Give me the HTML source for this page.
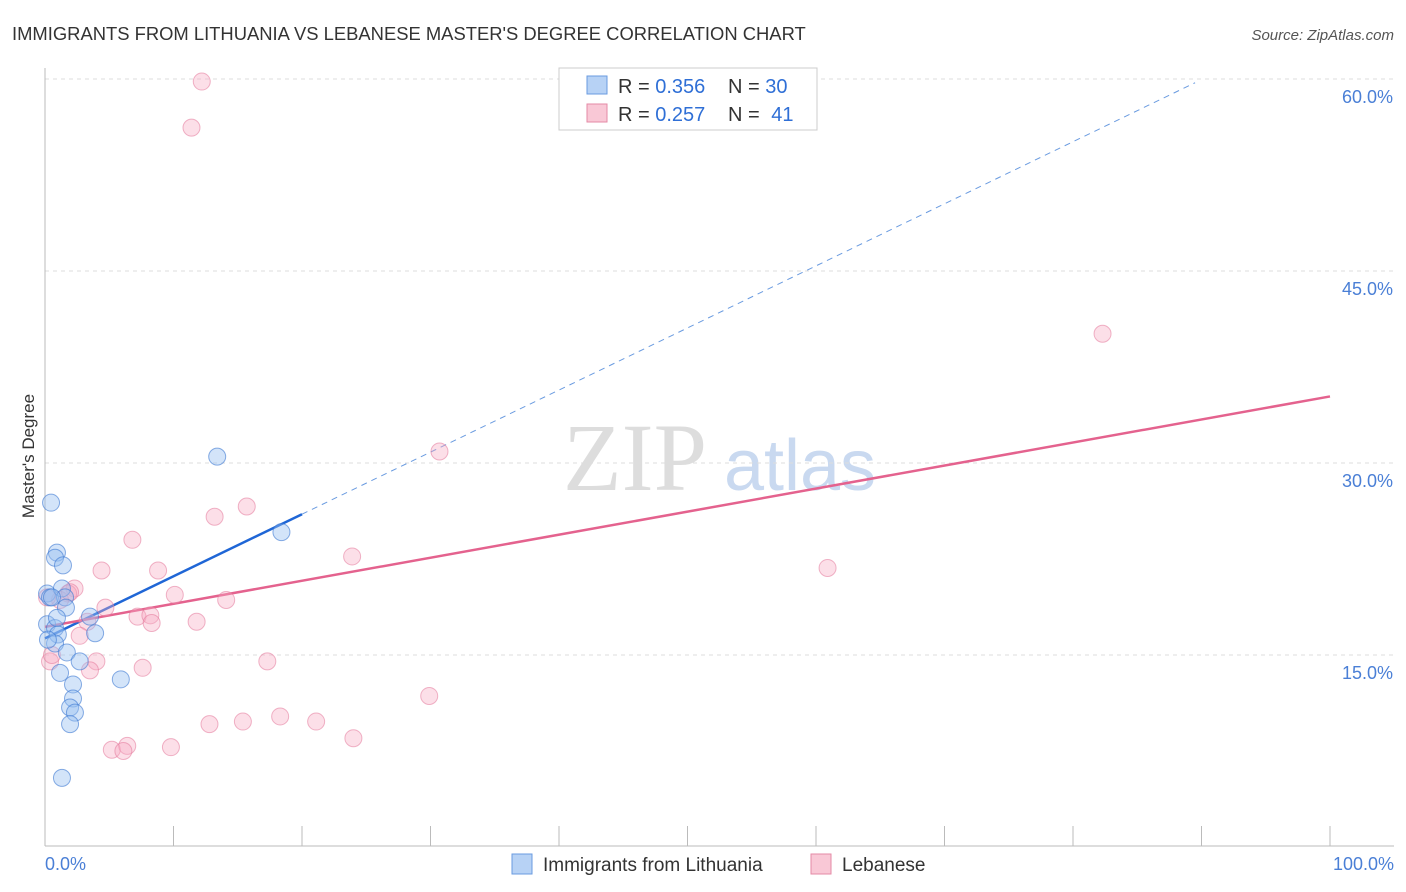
<!DOCTYPE html>
<html><head><meta charset="utf-8"><style>
body{margin:0;background:#fff;font-family:"Liberation Sans",sans-serif;}
#c{position:relative;width:1406px;height:892px;overflow:hidden;}
</style></head><body>
<div id="c">
<svg id="s" width="1406" height="892" xmlns="http://www.w3.org/2000/svg">
<text x="12" y="40" font-size="18.4" fill="#333">IMMIGRANTS FROM LITHUANIA VS LEBANESE MASTER'S DEGREE CORRELATION CHART</text>
<text x="1394" y="40" font-size="15" fill="#555" font-style="italic" text-anchor="end">Source: ZipAtlas.com</text>
<text x="34" y="456" font-size="17" fill="#333" transform="rotate(-90 34 456)" text-anchor="middle">Master's Degree</text>
<g><text x="635" y="490" font-size="96" fill="#ddd" font-family="Liberation Serif,serif" text-anchor="middle">ZIP</text><text x="800" y="490" font-size="72" fill="#c9d9f0" text-anchor="middle">atlas</text></g>
<g id="grid"></g><g id="axes"></g><g id="lines"></g><g id="pts"></g>
<g>
<rect x="559" y="68" width="258" height="62" fill="#fff" stroke="#ccc"/>
<rect x="587" y="76" width="20" height="18" fill="#b7d2f5" stroke="#6a9be0"/>
<text x="618" y="93" font-size="20" fill="#333">R = <tspan fill="#2f6fd6">0.356</tspan></text>
<text x="728" y="93" font-size="20" fill="#333">N = <tspan fill="#2f6fd6">30</tspan></text>
<rect x="587" y="104" width="20" height="18" fill="#f9c8d6" stroke="#e48aa6"/>
<text x="618" y="121" font-size="20" fill="#333">R = <tspan fill="#2f6fd6">0.257</tspan></text>
<text x="728" y="121" font-size="20" fill="#333">N = <tspan fill="#2f6fd6" dx="6">41</tspan></text>
</g>
<g>
<rect x="512" y="854" width="20" height="20" fill="#b7d2f5" stroke="#6a9be0"/>
<text x="543" y="871" font-size="19" fill="#333">Immigrants from Lithuania</text>
<rect x="811" y="854" width="20" height="20" fill="#f9c8d6" stroke="#e48aa6"/>
<text x="842" y="871" font-size="19" fill="#333">Lebanese</text>
</g>
<text x="45" y="870" font-size="18" fill="#4a7fd6">0.0%</text>
<text x="1394" y="870" font-size="18" fill="#4a7fd6" text-anchor="end">100.0%</text>
</svg>
</div>
<script>
const yTicks=[15,30,45,60];
const blueX=[0.47,0.93,0.78,1.4,0.16,0.39,1.32,1.56,1.63,3.5,0.16,0.78,1.0,3.9,0.78,1.7,2.7,1.17,2.18,2.18,1.95,2.33,1.95,5.9,1.32,13.4,18.4,0.54,0.23,0.93];
const blueY=[26.9,23.0,22.6,22.0,19.8,19.5,20.2,19.5,18.7,18.0,17.4,17.1,16.6,16.7,15.9,15.2,14.5,13.6,12.7,11.6,10.9,10.5,9.6,13.1,5.4,30.5,24.6,19.5,16.2,17.9];
const pinkX=[12.2,11.4,82.3,30.7,15.7,13.2,6.8,23.9,4.4,8.8,60.9,2.3,1.8,10.1,14.1,4.7,7.2,8.2,8.3,11.8,3.3,2.7,4.0,3.5,7.6,17.3,29.9,18.3,12.8,15.4,21.1,24.0,5.2,6.4,6.1,9.8,0.39,1.17,0.16,1.95,0.54];
const pinkY=[59.8,56.2,40.1,30.9,26.6,25.8,24.0,22.7,21.6,21.6,21.8,20.2,19.8,19.7,19.3,18.7,18.0,18.1,17.5,17.6,17.6,16.5,14.5,13.8,14.0,14.5,11.8,10.2,9.6,9.8,9.8,8.5,7.6,7.9,7.5,7.8,14.5,19.3,19.5,19.9,15.0];
const blueFit=[16.3,0.485];
const pinkFit=[17.2,0.18];
const X=v=>45+v*12.85, Y=v=>847-v*12.8;
const NS="http://www.w3.org/2000/svg";
function mk(t,a,p){const e=document.createElementNS(NS,t);for(const k in a)e.setAttribute(k,a[k]);document.getElementById(p).appendChild(e);return e;}
yTicks.forEach(t=>{
 const l=mk('line',{x1:45,x2:1394,y1:Y(t),y2:Y(t),stroke:'#ddd','stroke-dasharray':'4,4'},'grid');
 
 
 const tx=mk('text',{x:1393,y:Y(t)+24,'font-size':18,fill:'#4a7fd6','text-anchor':'end'},'grid');
 tx.textContent=t.toFixed(1)+'%';
 
 
});
const ax=mk('line',{x1:45,x2:45,y1:68,y2:846,stroke:'#bbb'},'axes');


const bx=mk('line',{x1:45,x2:1394,y1:846,y2:846,stroke:'#bbb'},'axes');


for(let i=1;i<=10;i++){const t=mk('line',{x1:X(i*10),x2:X(i*10),y1:826,y2:846,stroke:'#bbb'},'axes');
 
 }
function dot(x,y,f,s,n){const c=mk('circle',{cx:X(x),cy:Y(y),r:8.5,fill:f,stroke:s,'stroke-width':1},'pts');
 
 }
pinkX.forEach((x,i)=>dot(x,pinkY[i],'rgba(246,170,195,0.38)','rgba(228,120,155,0.55)','lebanese-point'));
blueX.forEach((x,i)=>dot(x,blueY[i],'rgba(150,190,240,0.42)','rgba(60,120,210,0.6)','lithuania-point'));
const fy=(f,x)=>f[0]+f[1]*x;
let l1=mk('line',{x1:X(20),y1:Y(fy(blueFit,20)),x2:X(89.5),y2:Y(fy(blueFit,89.5)),stroke:'#6a9be0','stroke-width':1,'stroke-dasharray':'6,5'},'lines');


let l2=mk('line',{x1:X(0),y1:Y(fy(blueFit,0)),x2:X(20),y2:Y(fy(blueFit,20)),stroke:'#1f66d6','stroke-width':2.5},'lines');


let l3=mk('line',{x1:X(0),y1:Y(fy(pinkFit,0)),x2:X(100),y2:Y(fy(pinkFit,100)),stroke:'#e4628e','stroke-width':2.5},'lines');


</script>
</body></html>
